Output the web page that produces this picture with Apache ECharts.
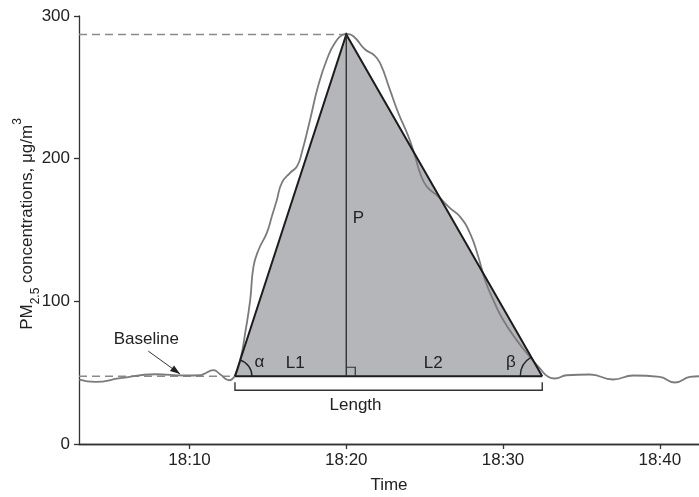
<!DOCTYPE html>
<html>
<head>
<meta charset="utf-8">
<script src="https://cdn.jsdelivr.net/npm/echarts@6/dist/echarts.min.js"></script>
<style>html,body{margin:0;padding:0;background:#fff}#c{width:699px;height:497px}</style>
</head>
<body>
<div id="c"></div>
<script>
// minutes after 18:00
const times = [2.97, 3.99, 5.58, 7.81, 9.73, 10.68, 10.89, 11.53, 11.95, 12.53, 12.91, 13.28, 13.55, 13.87, 14.08, 14.40, 14.93, 15.25, 15.57, 15.89, 16.42, 16.85, 17.16, 17.69, 18.20, 18.76, 19.29, 19.82, 19.99, 20.45, 21.20, 21.73, 22.15, 22.78, 23.32, 23.96, 24.39, 24.71, 25.13, 25.87, 26.62, 27.25, 27.89, 28.42, 28.85, 29.38, 30.01, 30.87, 31.71, 32.35, 32.88, 33.31, 34.05, 35.54, 37.02, 38.30, 40.0, 40.96, 41.92, 42.5];
const pm = [45.2, 43.5, 46.1, 48.9, 48.0, 48.2, 49.0, 51.8, 48.9, 44.7, 48.2, 61.1, 77.7, 100.9, 124.3, 136.0, 148.0, 159.4, 171.1, 183.1, 190.1, 194.5, 204.1, 227.3, 250.7, 269.5, 281.4, 287.0, 287.4, 285.8, 276.5, 273.0, 267.1, 248.4, 232.0, 215.6, 201.5, 189.9, 180.5, 173.5, 165.3, 159.4, 147.8, 131.3, 115.0, 100.9, 86.9, 72.8, 61.1, 53.0, 47.1, 45.9, 48.2, 48.7, 45.2, 48.0, 47.0, 43.1, 47.0, 47.5];
const xTicks = [10, 20, 30, 40];
const yTicks = [0, 100, 200, 300];
// triangle model
const startTime = 12.9, peakTime = 20, endTime = 32.5;
const baseValue = 47.5, peakValue = 287;
// annotations
const noteLabels = ['α', 'L1', 'P', 'L2', 'β', 'Length', 'Baseline'];
const noteTimes = [14.46, 16.74, 20.77, 25.55, 30.50, 20.59, 7.24];
const noteValues = [57.2, 56.7, 158.3, 56.5, 57.6, 27.2, 73.5];
const arrowTimes = [7.37, 9.40];
const arrowValues = [65.1, 49.0];

const X_MIN = 2.95, X_MAX = 42.5;
const FONT = '"Liberation Sans", Arial, sans-serif';
const INK = '#222';

const chart = echarts.init(document.getElementById('c'), null, {renderer: 'canvas'});

function fillItem(params, api) {
  const s = api.coord([startTime, baseValue]);
  const p = api.coord([peakTime, peakValue]);
  const e = api.coord([endTime, baseValue]);
  const a0 = api.coord([X_MIN, peakValue]);
  const b0 = api.coord([X_MIN, baseValue]);
  const dash = {stroke: '#8a8a8a', lineWidth: 1.4, lineDash: [8, 5], fill: null};
  return {type: 'group', children: [
    {type: 'polygon', shape: {points: [s, p, e]}, style: {fill: '#b5b6ba', stroke: null}},
    {type: 'line', shape: {x1: a0[0], y1: a0[1], x2: p[0], y2: p[1]}, style: dash},
    {type: 'line', shape: {x1: b0[0], y1: b0[1], x2: s[0], y2: s[1]}, style: dash}
  ]};
}

function overlayItem(params, api) {
  const s = api.coord([startTime, baseValue]);
  const p = api.coord([peakTime, peakValue]);
  const e = api.coord([endTime, baseValue]);
  const f = api.coord([peakTime, baseValue]);
  const ch = [];
  ch.push({type: 'polyline', shape: {points: [s, p, e]}, style: {stroke: '#1c1c1c', lineWidth: 2, fill: null}});
  ch.push({type: 'line', shape: {x1: s[0], y1: s[1], x2: e[0], y2: e[1]}, style: {stroke: '#1c1c1c', lineWidth: 1.8}});
  ch.push({type: 'line', shape: {x1: p[0], y1: p[1], x2: f[0], y2: f[1]}, style: {stroke: '#333', lineWidth: 1.4}});
  const q = 9;
  ch.push({type: 'polyline', shape: {points: [[f[0], f[1] - q], [f[0] + q, f[1] - q], [f[0] + q, f[1]]]}, style: {stroke: '#333', lineWidth: 1.2, fill: null}});
  const aL = Math.atan2(p[1] - s[1], p[0] - s[0]);
  ch.push({type: 'arc', shape: {cx: s[0], cy: s[1], r: 17, startAngle: aL, endAngle: 0, clockwise: true}, style: {stroke: '#222', lineWidth: 1.3, fill: null}});
  const aR = Math.atan2(p[1] - e[1], p[0] - e[0]);
  ch.push({type: 'arc', shape: {cx: e[0], cy: e[1], r: 22, startAngle: -Math.PI, endAngle: aR, clockwise: true}, style: {stroke: '#222', lineWidth: 1.3, fill: null}});
  // Length bracket
  const by = s[1] + 14;
  ch.push({type: 'polyline', shape: {points: [[s[0], by - 8], [s[0], by], [e[0], by], [e[0], by - 8]]}, style: {stroke: '#333', lineWidth: 1.4, fill: null}});
  // arrow
  const a1 = api.coord([arrowTimes[0], arrowValues[0]]);
  const a2 = api.coord([arrowTimes[1], arrowValues[1]]);
  ch.push({type: 'line', shape: {x1: a1[0], y1: a1[1], x2: a2[0], y2: a2[1]}, style: {stroke: '#333', lineWidth: 1}});
  const ang = Math.atan2(a2[1] - a1[1], a2[0] - a1[0]);
  const L = 10, W = 3.5;
  const bx = a2[0] - L * Math.cos(ang), byy = a2[1] - L * Math.sin(ang);
  ch.push({type: 'polygon', shape: {points: [a2,
    [bx + W * Math.sin(ang), byy - W * Math.cos(ang)],
    [bx - W * Math.sin(ang), byy + W * Math.cos(ang)]]}, style: {fill: '#222'}});
  for (let i = 0; i < noteLabels.length; i++) {
    const c = api.coord([noteTimes[i], noteValues[i]]);
    ch.push({type: 'text', x: c[0], y: c[1], style: {text: noteLabels[i], fill: INK, fontSize: 17, fontFamily: FONT, align: 'center', verticalAlign: 'middle'}});
  }
  return {type: 'group', children: ch};
}

const option = {
  animation: false,
  backgroundColor: '#fff',
  grid: {left: 79, top: 16, right: 0, bottom: 53, containLabel: false, outerBoundsMode: 'none'},
  xAxis: [{
    type: 'value', min: X_MIN, max: X_MAX,
    name: 'Time', nameLocation: 'middle', nameGap: 33, nameMoveOverlap: false,
    nameTextStyle: {fontSize: 17, fontFamily: FONT, color: INK},
    axisLine: {show: true, onZero: false, lineStyle: {color: '#333', width: 1.3}},
    axisTick: {show: true, length: 5, customValues: xTicks, lineStyle: {color: '#333', width: 1.3}},
    axisLabel: {customValues: xTicks, margin: 8, fontSize: 17, fontFamily: FONT, color: INK,
      formatter: v => '18:' + String(Math.round(v)).padStart(2, '0')},
    splitLine: {show: false}
  }, {
    type: 'value', position: 'top', min: X_MIN, max: X_MAX,
    axisLine: {show: true, lineStyle: {color: '#333', width: 1.3}},
    axisTick: {show: false}, axisLabel: {show: false}, splitLine: {show: false}
  }],
  yAxis: {
    type: 'value', min: 0, max: 300, interval: 100,
    name: 'PM{sub|2.5} concentrations, μg/m{sup|3}',
    nameLocation: 'middle', nameGap: 37, nameMoveOverlap: false,
    nameTextStyle: {fontSize: 17, fontFamily: FONT, color: INK, lineHeight: 30, padding: [0, 0, 0, 12],
      rich: {
        sub: {fontSize: 12, fontFamily: FONT, color: INK, lineHeight: 12, verticalAlign: 'bottom'},
        sup: {fontSize: 12, fontFamily: FONT, color: INK, lineHeight: 20, verticalAlign: 'top'}
      }},
    axisLine: {show: true, onZero: false, lineStyle: {color: '#333', width: 1.3}},
    axisTick: {show: true, length: 5, lineStyle: {color: '#333', width: 1.3}},
    axisLabel: {margin: 9, fontSize: 17, fontFamily: FONT, color: INK},
    splitLine: {show: false}
  },
  series: [{
    type: 'custom', coordinateSystem: 'cartesian2d', z: 1, silent: true,
    data: [[startTime, baseValue]], renderItem: fillItem, clip: false
  }, {
    type: 'line', z: 2, symbol: 'none', smooth: 0.5,
    data: times.map((t, i) => [t, pm[i]]),
    lineStyle: {color: '#7b7b7b', width: 1.8}
  }, {
    type: 'custom', coordinateSystem: 'cartesian2d', z: 3, silent: true,
    data: [[peakTime, peakValue]], renderItem: overlayItem, clip: false
  }]
};
chart.setOption(option);
</script>
</body>
</html>
